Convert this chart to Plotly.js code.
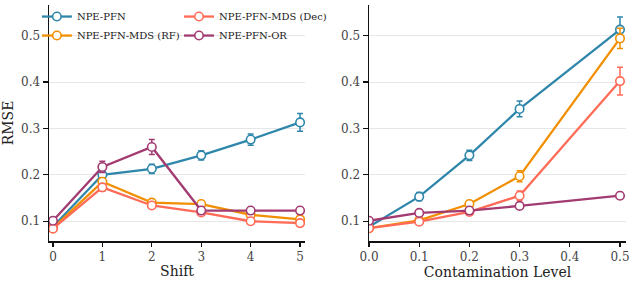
<!DOCTYPE html>
<html>
<head>
<meta charset="utf-8">
<script src="https://cdn.plot.ly/plotly-3.0.1.min.js"></script>
<style>html,body{margin:0;padding:0;background:#fff;}#chart{width:634px;height:282px;}</style>
</head>
<body>
<div id="chart"></div>
<script>
// ---- data ----
const seriesNames = ["NPE-PFN", "NPE-PFN-MDS (RF)", "NPE-PFN-MDS (Dec)", "NPE-PFN-OR"];
const seriesColors = ["#2E86AB", "#F18F01", "#FF6B57", "#A23B72"];

const shiftX = [0, 1, 2, 3, 4, 5];
const shiftPFN    = [0.088, 0.200, 0.213, 0.242, 0.276, 0.313];
const shiftPFNErr = [0.004, 0.006, 0.010, 0.010, 0.012, 0.019];
const shiftRF     = [0.085, 0.185, 0.140, 0.137, 0.114, 0.104];
const shiftRFErr  = [0.003, 0.008, 0.006, 0.006, 0.005, 0.004];
const shiftDec    = [0.084, 0.173, 0.134, 0.119, 0.100, 0.096];
const shiftDecErr = [0.003, 0.008, 0.006, 0.005, 0.005, 0.004];
const shiftOR     = [0.101, 0.217, 0.260, 0.123, 0.123, 0.123];
const shiftORErr  = [0.004, 0.012, 0.016, 0.006, 0.005, 0.005];

const contX = [0.0, 0.1, 0.2, 0.3, 0.5];
const contPFN    = [0.088, 0.153, 0.242, 0.342, 0.513];
const contPFNErr = [0.004, 0.009, 0.011, 0.017, 0.027];
const contRF     = [0.085, 0.102, 0.137, 0.197, 0.494];
const contRFErr  = [0.003, 0.004, 0.006, 0.012, 0.022];
const contDec    = [0.085, 0.099, 0.120, 0.155, 0.402];
const contDecErr = [0.003, 0.004, 0.006, 0.010, 0.030];
const contOR     = [0.101, 0.118, 0.123, 0.133, 0.155];
const contORErr  = [0.004, 0.005, 0.005, 0.006, 0.007];

const xTicksShift = [0, 1, 2, 3, 4, 5];
const xTicksCont = [0.0, 0.1, 0.2, 0.3, 0.4, 0.5];
const yTicks = [0.1, 0.2, 0.3, 0.4, 0.5];

// ---- build ----
const FONT = "DejaVu Serif";
const leftSets = [[shiftPFN, shiftPFNErr], [shiftRF, shiftRFErr], [shiftDec, shiftDecErr], [shiftOR, shiftORErr]];
const rightSets = [[contPFN, contPFNErr], [contRF, contRFErr], [contDec, contDecErr], [contOR, contORErr]];
const legendOf = ["legend", "legend", "legend2", "legend2"];

function mk(x, y, err, i, xa, ya, show) {
  return {
    type: "scatter", mode: "lines+markers", x: x, y: y,
    name: seriesNames[i], xaxis: xa, yaxis: ya, showlegend: show,
    legend: legendOf[i],
    line: {color: seriesColors[i], width: 2.3},
    marker: {symbol: "circle", size: 8.5, color: "#ffffff", line: {color: seriesColors[i], width: 1.6}},
    error_y: {type: "data", array: err, visible: true, color: seriesColors[i], thickness: 1.5, width: 3}
  };
}
const traces = [];
leftSets.forEach((s, i) => traces.push(mk(shiftX, s[0], s[1], i, "x", "y", true)));
rightSets.forEach((s, i) => traces.push(mk(contX, s[0], s[1], i, "x2", "y2", false)));

const yBase = {
  range: [0.0574, 0.566], tickvals: yTicks, tickformat: ".1f",
  showgrid: true, gridcolor: "#e6e6e6", gridwidth: 1, zeroline: false,
  showline: true, linecolor: "#111", linewidth: 1.5,
  ticks: "outside", ticklen: 5, tickwidth: 1.2, tickcolor: "#111",
  tickfont: {family: FONT, size: 12, color: "#444"}
};
const xBase = {
  showgrid: false, zeroline: false, showline: true, linecolor: "#111", linewidth: 1.5,
  ticks: "outside", ticklen: 4, tickwidth: 1.2, tickcolor: "#111",
  tickfont: {family: FONT, size: 12, color: "#444"}
};
const legBase = {
  orientation: "v", bgcolor: "rgba(0,0,0,0)", borderwidth: 0,
  font: {family: FONT, size: 10, color: "#222"},
  yanchor: "top", y: 1.0125, xanchor: "left", tracegroupgap: 0
};
const titleFont = {family: FONT, size: 14, color: "#222"};

const layout = {
  width: 634, height: 282,
  margin: {l: 49, r: 8, t: 2, b: 41},
  paper_bgcolor: "#fff", plot_bgcolor: "#fff",
  font: {family: FONT, color: "#222"},
  showlegend: true,
  xaxis: Object.assign({}, xBase, {domain: [0, 0.4437], range: [-0.08, 5.1], tickvals: xTicksShift, anchor: "y",
    title: {text: "Shift", font: titleFont, standoff: 3}}),
  yaxis: Object.assign({}, yBase, {anchor: "x",
    title: {text: "RMSE", font: titleFont, standoff: 6}}),
  xaxis2: Object.assign({}, xBase, {domain: [0.5546, 1], range: [0, 0.512], tickvals: xTicksCont, tickformat: ".1f", anchor: "y2",
    title: {text: "Contamination Level", font: titleFont, standoff: 3}}),
  yaxis2: Object.assign({}, yBase, {anchor: "x2"}),
  legend: Object.assign({}, legBase, {x: -0.021}),
  legend2: Object.assign({}, legBase, {x: 0.2253})
};

Plotly.newPlot("chart", traces, layout, {displayModeBar: false, staticPlot: true});
</script>
</body>
</html>
